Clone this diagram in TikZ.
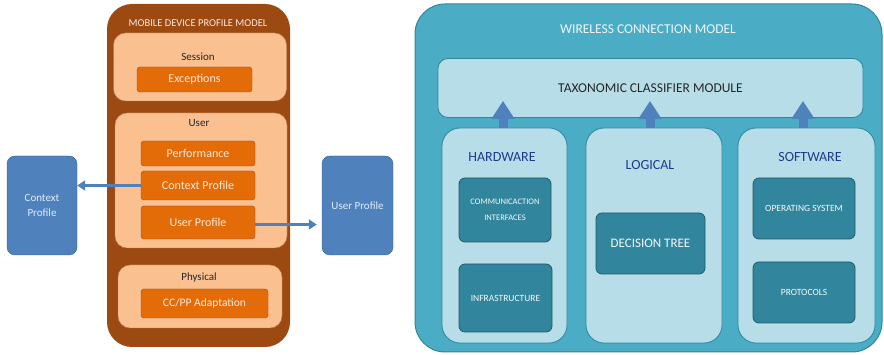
\documentclass[tikz,border=0pt]{standalone}
\usepackage{fontspec}
\setmainfont{Carlito}
\usetikzlibrary{arrows.meta}
\usetikzlibrary{positioning}
\definecolor{mdbrown}{HTML}{9C4A12}
\definecolor{mdpeach}{HTML}{FAC090}
\definecolor{mdorange}{HTML}{E36C09}
\definecolor{mdtext}{HTML}{FDE9D9}
\definecolor{pblue}{HTML}{4F81BD}
\definecolor{pbluedark}{HTML}{385D8A}
\definecolor{wcteal}{HTML}{4BACC6}
\definecolor{wcborder}{HTML}{31859C}
\definecolor{wclight}{HTML}{B7DEE8}
\definecolor{wcdark}{HTML}{31859C}
\definecolor{wcdeep}{HTML}{215968}
\definecolor{hdblue}{HTML}{1F3A8C}
\tikzset{box/.style = {rectangle, inner sep = 0, align = center}}
\tikzset{outerbrown/.style = {box, fill = mdbrown, rounded corners = 25}}
\tikzset{layer/.style = {box, fill = mdpeach, draw = mdbrown!70, rounded corners = 12}}
\tikzset{item/.style = {box, fill = mdorange, draw = mdbrown, rounded corners = 3,
                        text = mdtext, font = \fontsize{12}{13}\selectfont}}
\tikzset{ptitle/.style = {font = \fontsize{11}{12}\selectfont, text = black!85}}
\tikzset{profile/.style = {box, fill = pblue, draw = pbluedark, rounded corners = 8,
                           text = white!85!pblue, font = \fontsize{11}{12}\selectfont}}
\tikzset{outerteal/.style = {box, fill = wcteal, draw = wcborder, line width = 1, rounded corners = 30}}
\tikzset{panel/.style = {box, fill = wclight, draw = wcborder, line width = 0.8, rounded corners = 18}}
\tikzset{darkbox/.style = {box, fill = wcdark, draw = wcdeep, line width = 0.8, rounded corners = 6,
                           text = white!85!wclight, font = \fontsize{9.5}{12}\selectfont}}
\tikzset{head/.style = {font = \fontsize{14}{15}\selectfont, text = hdblue}}
\tikzset{thin arrow/.style = {draw = pblue, line width = 3.5,
                              -{Triangle[length = 8, width = 10]}}}
\tikzset{fat arrow/.style = {draw = pblue, line width = 9,
                             -{Triangle[length = 18, width = 22]}}}
\begin{document}
\begin{tikzpicture}[x=1pt, y=-1pt]
  \useasboundingbox (0, 0) rectangle (884, 355);

  % mobile device profile model
  \node [outerbrown, minimum width = 183, minimum height = 343] (mdpm) at (198.5, 175.5) {};
  \node [text = mdtext, font = \fontsize{10.5}{12}\selectfont] (mdpmtitle) at (198, 23) {MOBILE DEVICE PROFILE MODEL};

  \node [layer, minimum width = 173, minimum height = 68] (session) at (200, 67) {};
  \node [ptitle] (sessiontitle) at (198, 57) {Session};
  \node [item, minimum width = 115, minimum height = 25] (exceptions) at (194.5, 79.5) {Exceptions};

  \node [layer, minimum width = 172, minimum height = 135] (user) at (201, 180.5) {};
  \node [ptitle] (usertitle) at (199, 123) {User};
  \node [item, minimum width = 114, minimum height = 25] (performance) at (198, 153.5) {Performance};
  \node [item, minimum width = 114, minimum height = 29] (contextp) at (198, 185.5) {Context Profile};
  \node [item, minimum width = 114, minimum height = 33] (userp) at (198, 222.5) {User Profile};

  \node [layer, minimum width = 164, minimum height = 63] (physical) at (200, 296.5) {};
  \node [ptitle] (physicaltitle) at (199, 278) {Physical};
  \node [item, font = \fontsize{11.5}{13}\selectfont, minimum width = 127, minimum height = 29] (ccpp) at (204.5, 303.5) {CC/PP Adaptation};

  % profiles outside
  \node [profile, minimum width = 70, minimum height = 99] (ctxprofile) at (42, 205.5) {Context\\[3pt]Profile};
  \node [profile, minimum width = 71, minimum height = 99] (usrprofile) at (357.5, 205.5) {User Profile};

  \draw [thin arrow] (contextp.west) -- (ctxprofile.east |- contextp.west);
  \draw [thin arrow] ([yshift = -2]userp.east) -- ([xshift = -5, yshift = -2]usrprofile.west |- userp.east);

  % wireless connection model
  \node [outerteal, minimum width = 467, minimum height = 348] (wcm) at (648.5, 178) {};
  \node [text = white!90!wcteal, font = \fontsize{13.5}{15}\selectfont] (wcmtitle) at (648, 29) {WIRELESS CONNECTION MODEL};

  \node [panel, rounded corners = 10, minimum width = 425, minimum height = 59,
         font = \fontsize{13.5}{15}\selectfont, text = black!85] (tcm) at (650.5, 88) {TAXONOMIC CLASSIFIER MODULE};

  \node [panel, minimum width = 125, minimum height = 215] (hardware) at (504.5, 235.5) {};
  \node [panel, minimum width = 136, minimum height = 215] (logical) at (654, 235.5) {};
  \node [panel, minimum width = 137, minimum height = 215] (software) at (806.5, 235.5) {};

  \node [head] (hardwaretitle) at (502, 157) {HARDWARE};
  \node [head] (logicaltitle) at (650, 165) {LOGICAL};
  \node [head] (softwaretitle) at (810, 157) {SOFTWARE};

  \node [darkbox, font = \fontsize{8.5}{12}\selectfont, minimum width = 92, minimum height = 64] (comm) at (505, 210) {COMMUNICACTION\\[4pt]INTERFACES};
  \node [darkbox, minimum width = 93, minimum height = 68] (infra) at (505.5, 298) {INFRASTRUCTURE};
  \node [darkbox, minimum width = 109, minimum height = 61, font = \fontsize{13}{14}\selectfont] (dtree) at (650.5, 243.5) {DECISION TREE};
  \node [darkbox, minimum width = 102, minimum height = 61] (opsys) at (804, 208.5) {OPERATING SYSTEM};
  \node [darkbox, minimum width = 102, minimum height = 61] (protocols) at (804, 292.5) {PROTOCOLS};

  \draw [fat arrow] ([xshift = -1.5]hardware.north) -- ([xshift = -1.5, yshift = 17]hardware.north |- tcm.south);
  \draw [fat arrow] ([xshift = -4]logical.north) -- ([xshift = -4, yshift = 17]logical.north |- tcm.south);
  \draw [fat arrow] ([xshift = -3.5]software.north) -- ([xshift = -3.5, yshift = 17]software.north |- tcm.south);
\end{tikzpicture}
\end{document}
